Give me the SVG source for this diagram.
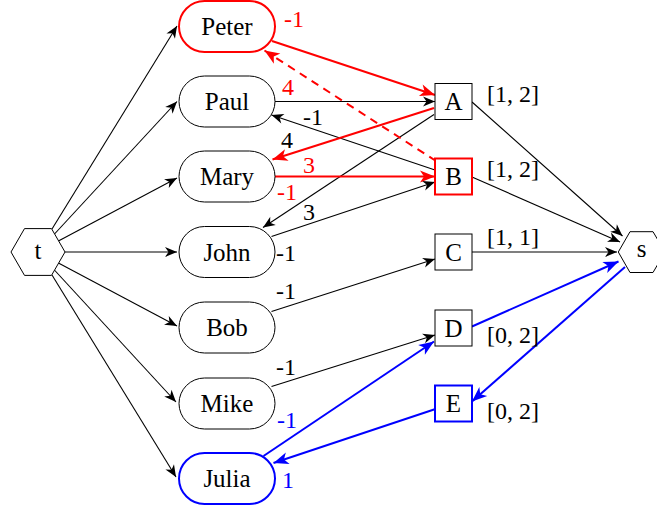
<svg xmlns="http://www.w3.org/2000/svg" width="657" height="507" viewBox="0 0 657 507" font-family="'Liberation Serif', 'Times New Roman', Times, serif">
<style>
text{font-family:'Liberation Serif','Times New Roman',Times,serif;font-size:25px;fill:#000}
.c{text-anchor:middle}
.lb{font-size:24px}
.r{fill:#ff0000}
.bl{fill:#0000ff}
.nk{fill:#fff;stroke:#000;stroke-width:1}
.nr{fill:#fff;stroke:#ff0000;stroke-width:2}
.nb{fill:#fff;stroke:#0000ff;stroke-width:2}
.ek{fill:none;stroke:#000;stroke-width:1.1;marker-end:url(#ak)}
.er{fill:none;stroke:#ff0000;stroke-width:2;marker-end:url(#ar)}
.eb{fill:none;stroke:#0000ff;stroke-width:2;marker-end:url(#ab)}
.dash{stroke-dasharray:8 6}
</style>
<defs>
<marker id="ak" viewBox="-13 -6 14 12" refX="0" refY="0" markerWidth="14" markerHeight="12" markerUnits="userSpaceOnUse" orient="auto"><path d="M0,0 L-12,-5 L-8.5,0 L-12,5 z" fill="#000"/></marker>
<marker id="ar" viewBox="-16 -7 17 14" refX="0" refY="0" markerWidth="17" markerHeight="14" markerUnits="userSpaceOnUse" orient="auto"><path d="M0,0 L-15,-6 L-11,0 L-15,6 z" fill="#ff0000"/></marker>
<marker id="ab" viewBox="-16 -7 17 14" refX="0" refY="0" markerWidth="17" markerHeight="14" markerUnits="userSpaceOnUse" orient="auto"><path d="M0,0 L-15,-6 L-11,0 L-15,6 z" fill="#0000ff"/></marker>
</defs>
<g id="connectors">
<path class="ek" d="M52,229 L177,26"/>
<path class="ek" d="M54.5,234 L177,101.5"/>
<path class="ek" d="M58.4,241 L177,178"/>
<path class="ek" d="M65,252 L177,252"/>
<path class="ek" d="M58.4,263 L177,326"/>
<path class="ek" d="M54.4,270 L176,402"/>
<path class="ek" d="M52,275 L176,477"/>
<path class="ek" d="M275,101.5 L435,101.5"/>
<path class="ek" d="M435,170 L271.5,115"/>
<path class="ek" d="M434,114.5 L263,227.5"/>
<path class="ek" d="M271.5,236.5 L435,182"/>
<path class="ek" d="M271.5,311.5 L435,259"/>
<path class="ek" d="M271.5,386.5 L435,335"/>
<path class="ek" d="M472,102 L622.5,236"/>
<path class="ek" d="M472,177 L620,242"/>
<path class="ek" d="M472,252 L617,252"/>
<path class="er" d="M272,41 L435,95"/>
<path class="er dash" d="M436,161 L264.5,50.5"/>
<path class="er" d="M434,108 L272.5,159.5"/>
<path class="er" d="M275,176.5 L435,176.5"/>
<path class="eb" d="M263.5,456 L434,341.5"/>
<path class="eb" d="M435.5,409 L273.5,463"/>
<path class="eb" d="M472,326.5 L618.5,261.5"/>
<path class="eb" d="M625,267 L472,401.5"/>
</g>
<g id="edge-labels" font-family="'Liberation Serif', 'Times New Roman', Times, serif">
<text class="lb r" x="284" y="27">-1</text>
<text class="lb r" x="282" y="95">4</text>
<text class="lb" x="303" y="125">-1</text>
<text class="lb" x="281" y="148">4</text>
<text class="lb r" x="303" y="173">3</text>
<text class="lb r" x="277" y="200">-1</text>
<text class="lb" x="303" y="220">3</text>
<text class="lb" x="276" y="261">-1</text>
<text class="lb" x="276" y="299">-1</text>
<text class="lb" x="276" y="375">-1</text>
<text class="lb bl" x="277" y="428">-1</text>
<text class="lb bl" x="282" y="488">1</text>
<text class="lb" x="487" y="102">[1, 2]</text>
<text class="lb" x="487" y="177">[1, 2]</text>
<text class="lb" x="487" y="245">[1, 1]</text>
<text class="lb" x="487" y="343">[0, 2]</text>
<text class="lb" x="487" y="419">[0, 2]</text>
</g>
<g id="t"><polygon class="nk" points="11,252 24.5,228.6 51.5,228.6 65,252 51.5,275.4 24.5,275.4"/><text class="c" x="38" y="259">t</text></g>
<g id="s"><polygon class="nk" points="618.3,252 630,231.7 653,231.7 665,252 653,272.5 630,272.5"/><text class="c" x="641.5" y="257">s</text></g>
<g id="Peter"><rect class="nr" x="179" y="1" width="96" height="51" rx="25.5"/><text class="c" x="227" y="34.5">Peter</text></g>
<g id="Paul"><rect class="nk" x="179" y="76" width="96" height="51" rx="25.5"/><text class="c" x="227" y="110">Paul</text></g>
<g id="Mary"><rect class="nk" x="179" y="151" width="96" height="51" rx="25.5"/><text class="c" x="227" y="185">Mary</text></g>
<g id="John"><rect class="nk" x="179" y="226.5" width="96" height="51" rx="25.5"/><text class="c" x="227" y="260.5">John</text></g>
<g id="Bob"><rect class="nk" x="179" y="302" width="96" height="51" rx="25.5"/><text class="c" x="227" y="336">Bob</text></g>
<g id="Mike"><rect class="nk" x="179" y="378" width="96" height="51" rx="25.5"/><text class="c" x="227" y="412">Mike</text></g>
<g id="Julia"><rect class="nb" x="179" y="453" width="96" height="51" rx="25.5"/><text class="c" x="227" y="487">Julia</text></g>
<g id="A"><rect class="nk" x="435" y="83.5" width="37" height="36"/><text class="c" x="453.5" y="110">A</text></g>
<g id="B"><rect class="nr" x="435" y="158.5" width="37" height="36"/><text class="c" x="453.5" y="185">B</text></g>
<g id="C"><rect class="nk" x="435" y="234" width="37" height="36"/><text class="c" x="453.5" y="260.5">C</text></g>
<g id="D"><rect class="nk" x="435" y="310" width="37" height="36"/><text class="c" x="453.5" y="336.5">D</text></g>
<g id="E"><rect class="nb" x="435" y="385.5" width="37" height="36"/><text class="c" x="453.5" y="412">E</text></g>
</svg>
